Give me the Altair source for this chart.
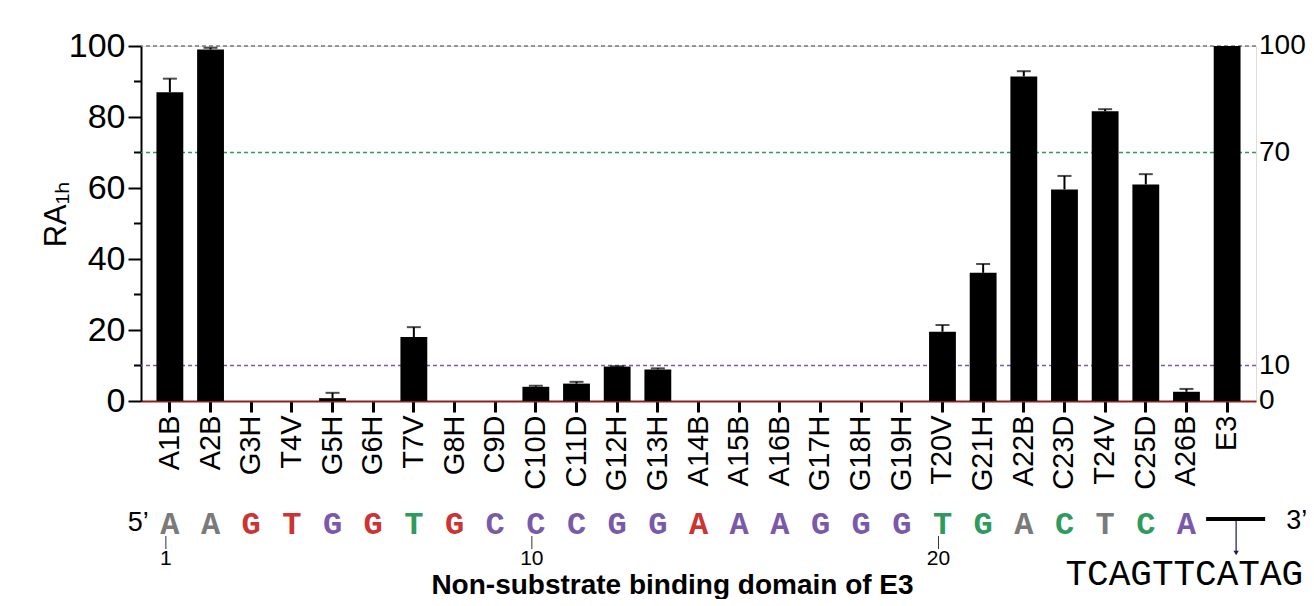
import altair as alt
import pandas as pd

# ---------------- data ----------------
categories = ["A1B", "A2B", "G3H", "T4V", "G5H", "G6H", "T7V", "G8H", "C9D", "C10D",
              "C11D", "G12H", "G13H", "A14B", "A15B", "A16B", "G17H", "G18H", "G19H",
              "T20V", "G21H", "A22B", "C23D", "T24V", "C25D", "A26B", "E3"]
values = [87.0, 99.0, 0, 0, 0.8, 0, 18.0, 0, 0, 4.0,
          4.9, 9.7, 8.9, 0, 0, 0, 0, 0, 0,
          19.5, 36.1, 91.4, 59.6, 81.6, 61.0, 2.6, 100.0]
errors = [3.8, 0.5, 0, 0, 1.5, 0, 2.8, 0, 0, 0.3,
          0.5, 0.1, 0.3, 0, 0, 0, 0, 0, 0,
          1.9, 2.5, 1.5, 3.8, 0.6, 2.9, 0.8, 0]

sequence = list("AAGTGGTGCCCGGAAAGGGTGACTCA")
seq_class = ["grey", "grey", "red", "red", "purple", "red", "green", "red", "purple", "purple",
             "purple", "purple", "purple", "red", "purple", "purple", "purple", "purple", "purple",
             "green", "green", "grey", "green", "grey", "green", "purple"]
position_numbers = ["1", "10", "20"]
position_cats = ["A1B", "C10D", "T20V"]

thresholds = [100, 70, 10]
threshold_class = ["grey", "green", "purple"]
right_labels = [100, 70, 10, 0]
minor_ticks = [10, 30, 50, 70, 90]
y_ticks = [0, 20, 40, 60, 80, 100]
tail_seq = "TCAGTTCATAG"

class_domain = ["grey", "red", "purple", "green"]
class_range = ["#8a8a8a", "#d4202a", "#6c3f99", "#1f9a5c"]
line_class_range = ["#7a7a7a", "#cc3333", "#7a5aa8", "#2e9a5e"]

FONT = "Liberation Sans"
MONO = "Liberation Mono"
W, H = 1115, 355

bars = pd.DataFrame({"cat": categories, "value": values, "err": errors})
bars["upper"] = bars["value"] + bars["err"]
errs = bars[bars["err"] > 0]
seq_df = pd.DataFrame({"cat": categories[:26], "letter": sequence, "cls": seq_class})
pos_df = pd.DataFrame({"cat": position_cats, "num": position_numbers})
thr_df = pd.DataFrame({"y": thresholds, "cls": threshold_class})
rlab_df = pd.DataFrame({"y": right_labels, "txt": [str(v) for v in right_labels]})
minor_df = pd.DataFrame({"minor": minor_ticks})
e3_df = pd.DataFrame({"cat": ["E3"], "tail": [tail_seq], "three": ["3\u2019"]})
five_df = pd.DataFrame({"cat": ["A1B"], "five": ["5\u2019"]})

xscale = alt.Scale(domain=categories, paddingInner=0.34, paddingOuter=0.38)
yscale = alt.Scale(domain=[0, 100], nice=False, zero=True)

x_axis = alt.Axis(
    title="Non-substrate binding domain of E3", titleFont=FONT, titleFontSize=28,
    titleFontWeight="bold", titleColor="black", titleX=531, titleY=192,
    titleAlign="center", titleBaseline="alphabetic",
    labelAngle=270, labelFont=FONT, labelFontSize=29, labelColor="black", labelPadding=3,
    tickColor="black", tickWidth=3, tickSize=11,
    domainColor="#8e1f1f", domainWidth=2, grid=False,
)
y_axis = alt.Axis(
    title="RA\u2081\u2095", titleFont=FONT, titleFontSize=31, titleFontWeight="normal",
    titleColor="black", titleX=-85, titleY=168, titleAngle=270,
    titleAlign="center", titleBaseline="middle",
    values=y_ticks, labelFont=FONT, labelFontSize=34, labelColor="black", labelPadding=3,
    tickColor="black", tickWidth=2, tickSize=13, domainColor="black", domainWidth=2, grid=False,
)


def xe(field="cat"):
    return alt.X(f"{field}:N", scale=xscale, sort=categories, axis=x_axis)


def ye(field):
    return alt.Y(f"{field}:Q", scale=yscale, axis=y_axis)


bar_layer = alt.Chart(bars).mark_bar(color="black").encode(x=xe(), y=ye("value"))

err_rule = alt.Chart(errs).mark_rule(color="black", strokeWidth=2).encode(
    x=xe(), y=ye("value"), y2="upper:Q")
err_cap = alt.Chart(errs).mark_tick(color="black", size=14, thickness=2).encode(
    x=xe(), y=ye("upper"))

thr_layer = alt.Chart(thr_df).mark_rule(strokeDash=[4, 3], strokeWidth=1.4).encode(
    y=ye("y"),
    color=alt.Color("cls:N", scale=alt.Scale(domain=class_domain, range=line_class_range), legend=None),
)
rlab_layer = alt.Chart(rlab_df).mark_text(
    align="left", baseline="middle", font=FONT, fontSize=28, color="black").encode(
    y=ye("y"), x=alt.value(W + 3), text="txt:N")

minor_layer = alt.Chart(minor_df).mark_rule(color="black", strokeWidth=2).encode(
    y=ye("minor"), x=alt.value(-7), x2=alt.value(0))

seq_layer = alt.Chart(seq_df).mark_text(
    font=MONO, fontSize=32, fontWeight="bold", baseline="middle").encode(
    x=xe(), y=alt.value(478), text="letter:N",
    color=alt.Color("cls:N", scale=alt.Scale(domain=class_domain, range=class_range), legend=None),
)
pos_rule = alt.Chart(pos_df).mark_rule(color="#333333", strokeWidth=1, xOffset=-4).encode(
    x=xe(), y=alt.value(490), y2=alt.value(503))
pos_text = alt.Chart(pos_df).mark_text(
    font=FONT, fontSize=21, baseline="middle", color="black", dx=-4).encode(
    x=xe(), y=alt.value(513), text="num:N")

five_layer = alt.Chart(five_df).mark_text(
    font=FONT, fontSize=27, align="right", baseline="middle", color="black", dx=-21).encode(
    x=xe(), y=alt.value(477), text="five:N")

e3_line = alt.Chart(e3_df).mark_bar(color="black", width=59, xOffset=8.5).encode(
    x=xe(), y=alt.value(471), y2=alt.value(475))
e3_arrow = alt.Chart(e3_df).mark_rule(color="#1c1c4a", strokeWidth=1.2, xOffset=9).encode(
    x=xe(), y=alt.value(475), y2=alt.value(507))
e3_head = alt.Chart(e3_df).mark_point(
    shape="triangle-down", filled=True, size=28, color="#1c1c4a", opacity=1, xOffset=9).encode(
    x=xe(), y=alt.value(507))
three_layer = alt.Chart(e3_df).mark_text(
    font=FONT, fontSize=27, align="left", baseline="middle", color="black", dx=59).encode(
    x=xe(), y=alt.value(475), text="three:N")
tail_layer = alt.Chart(e3_df).mark_text(
    font=MONO, fontSize=36, align="right", baseline="middle", color="black", dx=76).encode(
    x=xe(), y=alt.value(528), text="tail:N")

chart = alt.layer(
    thr_layer, bar_layer, err_rule, err_cap, minor_layer, rlab_layer,
    seq_layer, pos_rule, pos_text, five_layer,
    e3_line, e3_arrow, e3_head, three_layer, tail_layer,
).properties(
    width=W, height=H,
    autosize=alt.AutoSizeParams(type="none"),
    padding={"left": 133, "top": 38, "right": 50, "bottom": 198},
).configure_view(stroke=None).configure(background="white")

chart.save("out.html", embed_options={"renderer": "svg", "actions": False})
